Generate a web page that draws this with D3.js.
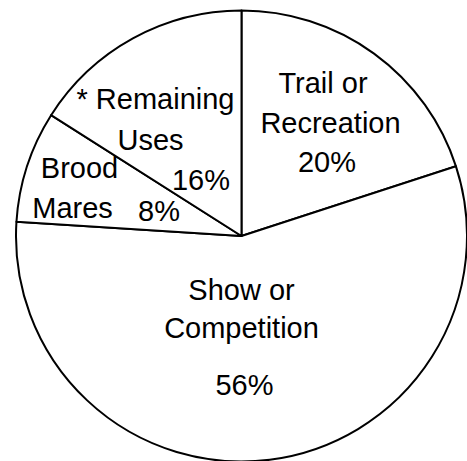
<!DOCTYPE html>
<html>
<head>
<meta charset="utf-8">
<script src="https://cdn.jsdelivr.net/npm/d3@7"></script>
<style>
body { margin: 0; background: #fff; }
#pie-chart text { font-family: "Liberation Sans", Arial, sans-serif; font-size: 29px; fill: #000; }
</style>
</head>
<body>
<div id="pie-chart"></div>
<script>
// slices in clockwise order from 12 o'clock
var categories = ["Trail or Recreation", "Show or Competition", "Brood Mares", "* Remaining Uses"];
var shares = [20, 56, 8, 16];
var labelLines = [["Trail or", "Recreation"], ["Show or", "Competition"], ["Brood", "Mares"], ["* Remaining", "Uses"]];

/**
 * Constructor for the PieChart
 */
function PieChart() {
    var self = this;
    self.init();
};

/**
 * Builds the svg and draws slices and labels
 */
PieChart.prototype.init = function () {
    var self = this;
    self.svgWidth = 467;
    self.svgHeight = 461;
    self.cx = 241.5;
    self.cy = 236;
    self.radius = 225.5;

    // label spots (offsets from the pie centre) for each text line, last one is the percent
    self.labelSpots = [
        [[81.5, -143], [89, -103], [85.5, -64]],
        [[0, 64], [0, 102], [3, 159]],
        [[-162, -58], [-169, -18], [-82.5, -15]],
        [[-86, -127], [-91, -86], [-40.5, -46]]
    ];

    self.svg = d3.select("#pie-chart").append("svg")
        .attr("width", self.svgWidth)
        .attr("height", self.svgHeight);

    var g = self.svg.append("g")
        .attr("transform", "translate(" + self.cx + "," + self.cy + ")");

    var pie = d3.pie().sort(null).value(function (d) { return d; });
    var arc = d3.arc().innerRadius(0).outerRadius(self.radius);

    g.selectAll("path.slice")
        .data(pie(shares))
        .enter().append("path")
        .classed("slice", true)
        .attr("d", arc)
        .attr("fill", "#fff")
        .attr("stroke", "#000")
        .attr("stroke-width", 2)
        .attr("stroke-linejoin", "round");

    // text lines, with the share as the last line of each slice
    var textRows = [];
    categories.forEach(function (c, i) {
        var lines = labelLines[i].concat([shares[i] + "%"]);
        lines.forEach(function (t, j) {
            textRows.push({ text: t, pos: self.labelSpots[i][j] });
        });
    });

    g.selectAll("text.label")
        .data(textRows)
        .enter().append("text")
        .classed("label", true)
        .attr("text-anchor", "middle")
        .attr("x", function (d) { return d.pos[0]; })
        .attr("y", function (d) { return d.pos[1]; })
        .text(function (d) { return d.text; });
};

var chart = new PieChart();
</script>
</body>
</html>
